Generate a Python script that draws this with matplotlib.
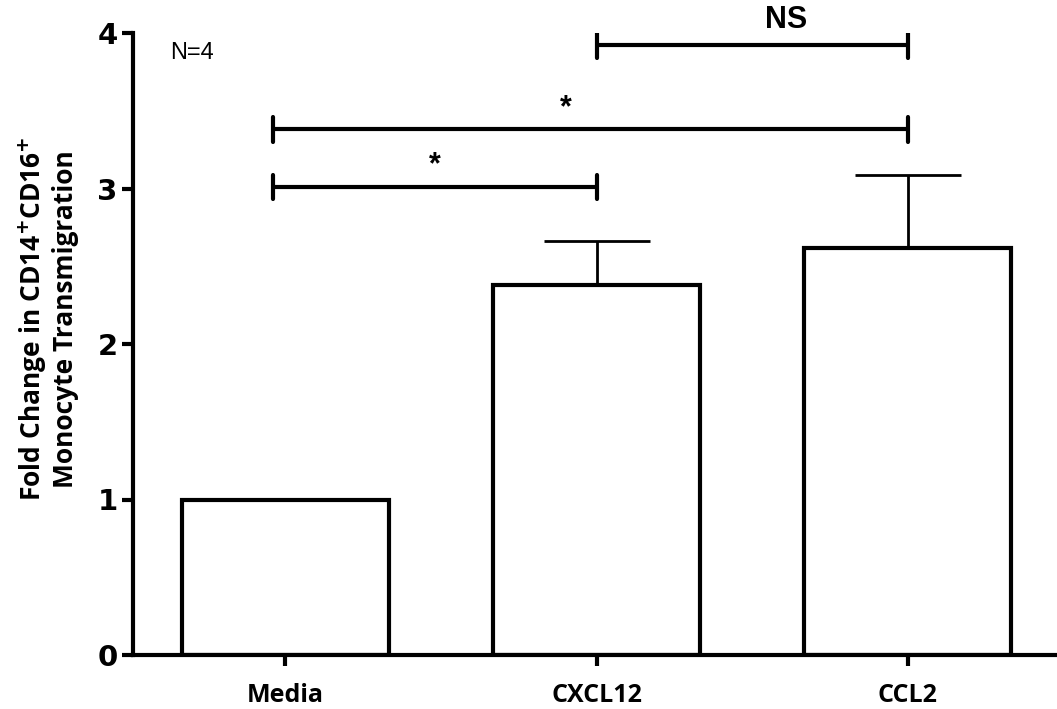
import numpy as np
import matplotlib
matplotlib.use("Agg")
import matplotlib.pyplot as plt

# data
groups = ['Media', 'CXCL12', 'CCL2']
means = [1.0, 2.38, 2.62]
sem = [0.0, 0.28, 0.47]

# significance brackets: (left x, right x, height, label, label x)
brackets = [(-0.04, 1.0, 3.01, '*', 0.48),
            (-0.04, 2.0, 3.38, '*', 0.90),
            (1.0, 2.0, 3.92, 'NS', 1.61)]

fig = plt.figure(figsize=(10.57, 7.09), dpi=100)
ax = fig.add_axes([133/1057, 1 - 655/709, 1 - 133/1057, (655 - 33)/709])

x = np.arange(len(groups))
ax.bar(x, means, width=0.667, color='white', edgecolor='black', linewidth=3, zorder=2)
ax.errorbar(x[1:], means[1:], yerr=[np.zeros(2), sem[1:]], fmt='none',
            ecolor='black', elinewidth=2, capsize=38, capthick=2, zorder=1)

for x0, x1, h, lab, lx in brackets:
    ax.plot([x0, x1], [h, h], color='black', lw=3, solid_capstyle='round')
    for xe in (x0, x1):
        ax.plot([xe, xe], [h - 0.08, h + 0.08], color='black', lw=3, solid_capstyle='round')
    if lab == 'NS':
        ax.text(lx, h + 0.07, lab, ha='center', va='bottom',
                fontsize=22, fontweight='bold', family='Liberation Sans')
    else:
        ax.text(lx, h + 0.04, lab, ha='center', va='bottom',
                fontsize=22, fontweight='bold', family='Liberation Sans')

ax.text(0.04, 0.985, 'N=4', transform=ax.transAxes, ha='left', va='top',
        fontsize=17, family='Liberation Sans')

ax.set_xlim(-0.49, 2.48)
ax.set_ylim(0, 4)
ax.set_yticks([0, 1, 2, 3, 4])
ax.set_xticks(x)
ax.set_xticklabels(groups, fontsize=18, fontweight='bold', family='Open Sans')
for t in ax.get_yticklabels():
    t.set_fontsize(21)
    t.set_fontweight('bold')
    t.set_family('DejaVu Sans')

for s in ['top', 'right']:
    ax.spines[s].set_visible(False)
for s in ['left', 'bottom']:
    ax.spines[s].set_linewidth(3)
ax.tick_params(axis='both', width=3, length=8, direction='out', pad=3)
ax.tick_params(axis='x', pad=12)

ax.set_ylabel('Fold Change in CD14$^{\\mathbf{+}}$CD16$^{\\mathbf{+}}$\nMonocyte Transmigration',
              fontsize=19, fontweight='bold', family='Open Sans',
              linespacing=1.15)
ax.yaxis.set_label_coords(-0.058, 0.54)

fig.savefig('out.png', dpi=100)
